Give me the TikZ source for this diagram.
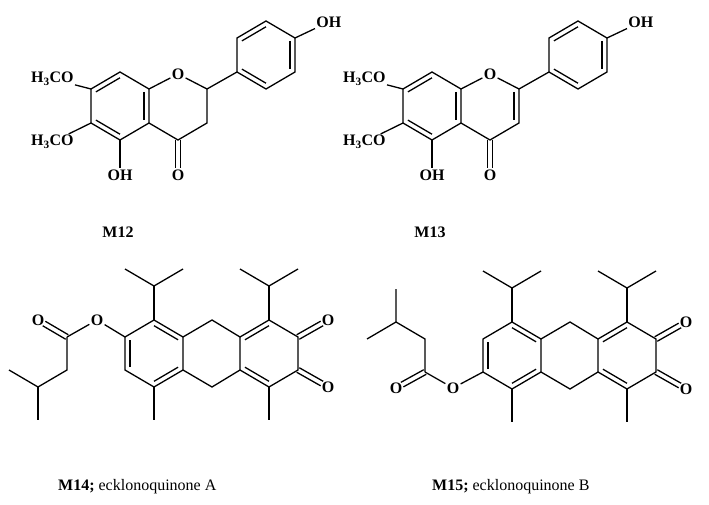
\documentclass[tikz,border=0pt]{standalone}
\usepackage{fontspec}
\setmainfont{Liberation Serif}
\usetikzlibrary{calc}
\tikzset{
  atom/.style={font=\bfseries\fontsize{16}{16}\selectfont, inner sep=1.2pt},
  caption/.style={font=\fontsize{16}{16}\selectfont, inner sep=0pt},
  bond/.style={line width=1.3pt, line join=miter},
}
\newcommand\ib[3]{\draw[bond] ($(#1)!0.17!(#3)$) -- ($(#2)!0.17!(#3)$);}
\newcommand\exdb[2]{\draw[bond,shorten >=7pt] ($(#1)!2.6pt!90:(#2)$) -- ($(#2)!2.6pt!-90:(#1)$);
  \draw[bond,shorten >=7pt] ($(#1)!2.6pt!-90:(#2)$) -- ($(#2)!2.6pt!90:(#1)$);}
\newcommand\flav[2]{%
  \coordinate (#1a1) at (120,72); \coordinate (#1a2) at (149,89);
  \coordinate (#1a3) at (149,123); \coordinate (#1a4) at (120,140);
  \coordinate (#1a5) at (91,123); \coordinate (#1a6) at (91,89);
  \coordinate (#1cA) at (120,106);
  \node[atom] (#1O1) at (178,74) {O};
  \coordinate (#1c2) at (207,89); \coordinate (#1c3) at (207,123);
  \coordinate (#1c4) at (178,140); \coordinate (#1cC) at (178,106);
  \draw[bond] (#1a1)--(#1a2)--(#1a3)--(#1a4)--(#1a5)--(#1a6)--cycle;
  \draw[bond] (#1a2)--(#1O1)--(#1c2)--(#1c3)--(#1c4)--(#1a3);
  \ib{#1a6}{#1a1}{#1cA}\ib{#1a2}{#1a3}{#1cA}\ib{#1a4}{#1a5}{#1cA}
  \node[atom] (#1Ok) at (178,175) {O};
  \draw[bond] ([xshift=-2.6pt]#1c4) -- ([xshift=-2.6pt]#1Ok.north);
  \draw[bond] ([xshift=2.6pt]#1c4) -- ([xshift=2.6pt]#1Ok.north);
  \node[atom] (#1OH) at (120,175) {OH};
  \draw[bond] (#1a4)--(#1OH);
  \node[atom,anchor=east] (#1me1) at (75,79) {H\textsubscript{3}CO};
  \node[atom,anchor=east] (#1me2) at (75,142) {H\textsubscript{3}CO};
  \draw[bond] (#1a6)--(#1me1); \draw[bond] (#1a5)--(#1me2);
  \coordinate (#1p1) at (266,21); \coordinate (#1p2) at (295,38);
  \coordinate (#1p3) at (295,72); \coordinate (#1p4) at (266,89);
  \coordinate (#1p5) at (237,72); \coordinate (#1p6) at (237,38);
  \coordinate (#1cP) at (266,55);
  \draw[bond] (#1p1)--(#1p2)--(#1p3)--(#1p4)--(#1p5)--(#1p6)--cycle;
  \ib{#1p6}{#1p1}{#1cP}\ib{#1p2}{#1p3}{#1cP}\ib{#1p4}{#1p5}{#1cP}
  \draw[bond] (#1c2)--(#1p5);
  \node[atom,anchor=west] (#1pOH) at (315,22) {OH};
  \draw[bond] (#1p2)--(#1pOH);
  #2}
\newcommand\core[1]{%
  \coordinate (#1r1) at (154,320); \coordinate (#1r2) at (183,337);
  \coordinate (#1r3) at (183,370); \coordinate (#1r4) at (154,387);
  \coordinate (#1r5) at (125,370); \coordinate (#1r6) at (125,337);
  \coordinate (#1cA) at (154,353.5);
  \coordinate (#1m1) at (212,320); \coordinate (#1m2) at (212,387);
  \coordinate (#1q1) at (240,337); \coordinate (#1q2) at (269,320);
  \coordinate (#1q3) at (298,337); \coordinate (#1q4) at (298,370);
  \coordinate (#1q5) at (269,387); \coordinate (#1q6) at (240,370);
  \coordinate (#1cQ) at (269,353.5);
  \draw[bond] (#1r1)--(#1r2)--(#1r3)--(#1r4)--(#1r5)--(#1r6)--cycle;
  \draw[bond] (#1q1)--(#1q2)--(#1q3)--(#1q4)--(#1q5)--(#1q6)--cycle;
  \draw[bond] (#1r2)--(#1m1)--(#1q1); \draw[bond] (#1r3)--(#1m2)--(#1q6);
  \ib{#1r1}{#1r2}{#1cA}\ib{#1r5}{#1r6}{#1cA}\ib{#1r3}{#1r4}{#1cA}
  \ib{#1q1}{#1q2}{#1cQ}\ib{#1q5}{#1q6}{#1cQ}
  \node[atom] (#1Oa) at (328,320) {O};
  \node[atom] (#1Ob) at (328,387) {O};
  \exdb{#1q3}{#1Oa}\exdb{#1q4}{#1Ob}
  \coordinate (#1i1) at (154,286); \coordinate (#1i1a) at (125,269); \coordinate (#1i1b) at (183,269);
  \coordinate (#1i2) at (269,286); \coordinate (#1i2a) at (240,269); \coordinate (#1i2b) at (298,269);
  \draw[bond] (#1r1)--(#1i1); \draw[bond] (#1i1a)--(#1i1)--(#1i1b);
  \draw[bond] (#1q2)--(#1i2); \draw[bond] (#1i2a)--(#1i2)--(#1i2b);
  \coordinate (#1me1) at (154,420); \coordinate (#1me2) at (269,420);
  \draw[bond] (#1r4)--(#1me1); \draw[bond] (#1q5)--(#1me2);}
\begin{document}
\begin{tikzpicture}[x=1pt,y=-1pt]
\useasboundingbox (0,0) rectangle (709,505);
% M12
\flav{A}{}
% M13
\begin{scope}[shift={(312,0)}]
\flav{B}{\ib{Bc2}{Bc3}{BcC}}
\end{scope}
\node[atom] (lab12) at (118,232) {M12};
\node[atom] (lab13) at (430,232) {M13};
% M14
\core{C}
\node[atom] (CO) at (97,320) {O};
\node[atom] (COc) at (38,320) {O};
\coordinate (Ce1) at (67,337); \coordinate (Ce2) at (67,370);
\coordinate (Ce3) at (38,387); \coordinate (Ce4) at (9,370); \coordinate (Ce5) at (38,420);
\draw[bond] (Cr6)--(CO)--(Ce1);
\exdb{Ce1}{COc}
\draw[bond] (Ce1)--(Ce2)--(Ce3)--(Ce4); \draw[bond] (Ce3)--(Ce5);
\node[caption,anchor=west] (lab14) at (58,487) {\textbf{M14;} ecklonoquinone A};
% M15
\begin{scope}[shift={(358,2)}]
\core{D}
\node[atom] (DO) at (95,386) {O};
\node[atom] (DOc) at (38,386) {O};
\coordinate (De1) at (67,370); \coordinate (De2) at (67,337);
\coordinate (De3) at (38,320); \coordinate (De4) at (38,287); \coordinate (De5) at (9,337);
\draw[bond] (Dr5)--(DO)--(De1);
\exdb{De1}{DOc}
\draw[bond] (De1)--(De2)--(De3)--(De4); \draw[bond] (De3)--(De5);
\end{scope}
\node[caption,anchor=west] (lab15) at (432,487) {\textbf{M15;} ecklonoquinone B};
\end{tikzpicture}
\end{document}
